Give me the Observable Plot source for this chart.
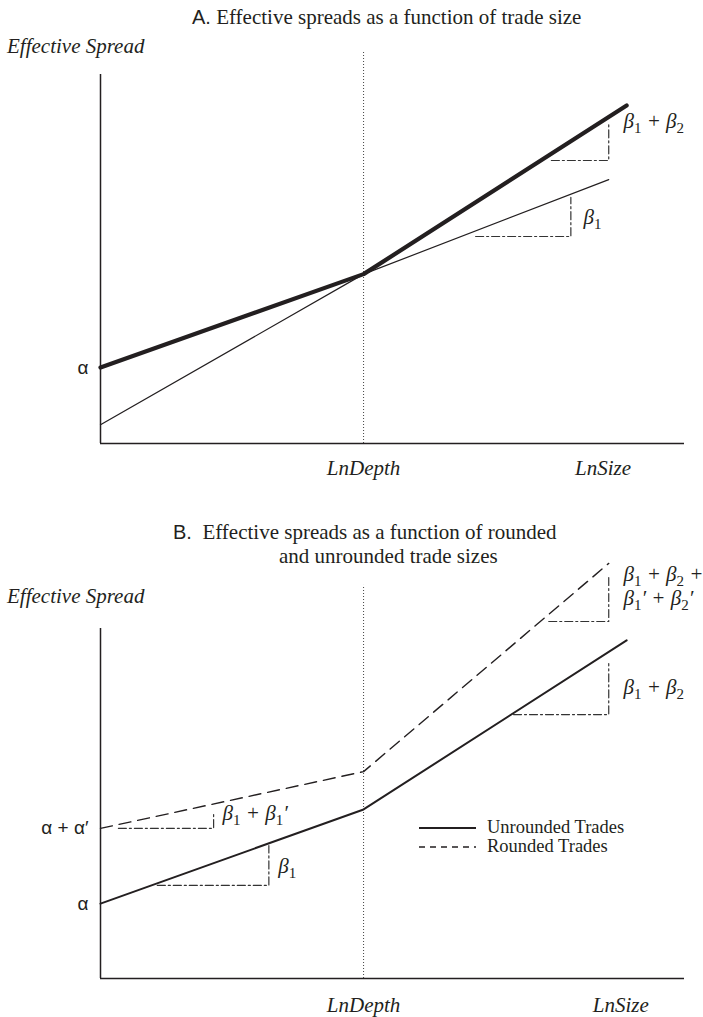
<!DOCTYPE html>
<html><head><meta charset="utf-8">
<script src="https://cdn.jsdelivr.net/npm/d3@7"></script>
<script src="https://cdn.jsdelivr.net/npm/@observablehq/plot@0.6"></script>
<style>
body{margin:0;background:#fff;}
#wrap{position:relative;width:703px;height:1017px;font-family:"Liberation Serif","Times New Roman",serif;color:#231f20;overflow:hidden;}
.t{position:absolute;font-size:21px;line-height:24px;white-space:nowrap;}
.sans{font-family:"Liberation Sans",Arial,sans-serif;font-size:20px;}
.it{font-style:italic;}
.panel{position:absolute;left:0;}
.leg{position:absolute;left:419px;top:818px;font-size:18.5px;line-height:19px;}
.leg div{display:flex;align-items:center;white-space:nowrap;}
.leg svg{margin-right:11px;}
</style></head><body>
<div id="wrap">
  <div class="t" style="left:192px;top:5px;"><span class="sans">A.</span> Effective spreads as a function of trade size</div>
  <div class="t it" style="left:7px;top:34px;">Effective Spread</div>
  <div class="t" style="left:173px;top:520px;"><span class="sans">B.</span>&nbsp; Effective spreads as a function of rounded</div>
  <div class="t" style="left:279px;top:544px;">and unrounded trade sizes</div>
  <div class="t it" style="left:7px;top:584px;">Effective Spread</div>
  <div id="A" class="panel" style="top:0px;"></div>
  <div id="B" class="panel" style="top:500px;"></div>
  <div class="leg" id="legend"></div>
</div>
<script>
// ---------- Panel A data ----------
const xTicksA = [{x: 5, label: "LnDepth"}, {x: 9.55, label: "LnSize"}];
const yTicksA = [{y: 2.06, label: "α"}];
const depthA = [5];
const thinA  = [{x: 0, y: 0.51}, {x: 5, y: 4.59}, {x: 9.66, y: 7.15}];
const thickA = [{x: 0, y: 2.06}, {x: 5, y: 4.59}, {x: 10, y: 9.16}];
const stepsA = [
  [{x: 8.57, y: 7.67}, {x: 9.66, y: 7.67}, {x: 9.66, y: 8.70}],
  [{x: 7.13, y: 5.61}, {x: 8.94, y: 5.61}, {x: 8.94, y: 6.67}]
];
const slopeLabelsA = [
  {x: 9.94, y: 8.72, label: "β₁ + β₂"},
  {x: 9.18, y: 6.12, label: "β₁"}
];

// ---------- Panel B data ----------
const xTicksB = [{x: 5, label: "LnDepth"}, {x: 9.89, label: "LnSize"}];
const yTicksB = [{y: 2.14, label: "α"}, {y: 4.29, label: "α + α′"}];
const depthB = [5];
const unrounded = [{x: 0, y: 2.14}, {x: 5, y: 4.83}, {x: 10, y: 9.66}];
const rounded   = [{x: 0, y: 4.29}, {x: 5, y: 5.91}, {x: 9.66, y: 11.86}];
const stepsB = [
  [{x: 0.34, y: 4.29}, {x: 2.15, y: 4.29}, {x: 2.15, y: 4.71}],
  [{x: 1.08, y: 2.66}, {x: 3.20, y: 2.66}, {x: 3.20, y: 3.80}],
  [{x: 8.52, y: 10.2}, {x: 9.66, y: 10.2}, {x: 9.66, y: 11.51}],
  [{x: 7.85, y: 7.54}, {x: 9.66, y: 7.54}, {x: 9.66, y: 9.00}]
];
const slopeLabelsB = [
  {x: 9.94, y: 11.56, label: "β₁ + β₂ +"},
  {x: 9.94, y: 10.86, label: "β₁′ + β₂′"},
  {x: 9.94, y: 8.31, label: "β₁ + β₂"},
  {x: 2.32, y: 4.71, label: "β₁ + β₁′"},
  {x: 3.38, y: 3.20, label: "β₁"}
];
const legendItems = [
  {label: "Unrounded Trades", dash: null},
  {label: "Rounded Trades", dash: "6,5"}
];

const INK = "#231f20";
const SERIF = "Liberation Serif, Times New Roman, serif";
const SANS = "Liberation Sans, Arial, sans-serif";
const flat = segs => segs.flatMap((s, i) => s.map(p => ({...p, k: i})));

function richify(root) {
  root.querySelectorAll("text").forEach(t => {
    const s = t.textContent;
    if (!/[₁₂]/.test(s)) return;
    while (t.firstChild) t.removeChild(t.firstChild);
    let off = 0;
    for (const p of s.split(/([₁₂])/)) {
      if (!p) continue;
      const ts = document.createElementNS("http://www.w3.org/2000/svg", "tspan");
      if (p === "₁" || p === "₂") {
        ts.textContent = p === "₁" ? "1" : "2";
        ts.setAttribute("font-size", "15");
        ts.setAttribute("font-style", "normal");
        ts.setAttribute("dy", String(5 - off)); off = 5;
      } else {
        ts.textContent = p;
        ts.setAttribute("dy", String(0 - off)); off = 0;
      }
      t.appendChild(ts);
    }
  });
}

function panel({height, yRange, yMax, depth, depthTop, xTicks, yTicks, marks, labels, dyTick}) {
  const svg = Plot.plot({
    width: 703, height,
    x: {domain: [0, 11.1], range: [100, 684], axis: null},
    y: {domain: [0, yMax], range: yRange, axis: null},
    style: {background: "transparent", overflow: "visible"},
    marks: [
      Plot.ruleX(depth, {y1: 0, y2: depthTop, stroke: "#444", strokeWidth: 1, strokeDasharray: "1,2"}),
      Plot.ruleX([0], {y1: 0, y2: yMax, stroke: INK, strokeWidth: 1.5}),
      Plot.ruleY([0], {x1: 0, x2: 11.1, stroke: INK, strokeWidth: 1.6}),
      ...marks,
      Plot.text(xTicks, {x: "x", y: 0, text: "label", dy: dyTick, fontSize: 21, fontStyle: "italic", fontFamily: SERIF, fill: INK}),
      Plot.text(yTicks, {x: 0, y: "y", text: "label", dx: -12, textAnchor: "end", fontSize: 19, fontFamily: SANS, fill: INK}),
      Plot.text(labels, {x: "x", y: "y", text: "label", textAnchor: "start", fontSize: 21, fontStyle: "italic", fontFamily: SERIF, fill: INK})
    ]
  });
  richify(svg);
  return svg;
}

const dashDot = {stroke: "#333", strokeWidth: 1.2, strokeDasharray: "8,3,2,3"};

document.getElementById("A").appendChild(panel({
  height: 500, yRange: [443, 74], yMax: 10, depth: depthA, depthTop: 10.6, dyTick: 25,
  xTicks: xTicksA, yTicks: yTicksA, labels: slopeLabelsA,
  marks: [
    Plot.line(flat(stepsA), {x: "x", y: "y", z: "k", ...dashDot}),
    Plot.line(thinA, {x: "x", y: "y", stroke: INK, strokeWidth: 1.2}),
    Plot.line(thickA, {x: "x", y: "y", stroke: INK, strokeWidth: 4.2})
  ]
}));

document.getElementById("B").appendChild(panel({
  height: 517, yRange: [478, 128], yMax: 10, depth: depthB, depthTop: 11.23, dyTick: 27,
  xTicks: xTicksB, yTicks: yTicksB, labels: slopeLabelsB,
  marks: [
    Plot.line(flat(stepsB), {x: "x", y: "y", z: "k", ...dashDot}),
    Plot.line(rounded, {x: "x", y: "y", stroke: INK, strokeWidth: 1.4, strokeDasharray: "12,7"}),
    Plot.line(unrounded, {x: "x", y: "y", stroke: INK, strokeWidth: 2})
  ]
}));

const leg = document.getElementById("legend");
for (const it of legendItems) {
  const row = document.createElement("div");
  const sw = d3.create("svg").attr("width", 57).attr("height", 10);
  sw.append("line").attr("x1", 0).attr("x2", 57).attr("y1", 5).attr("y2", 5)
    .attr("stroke", INK).attr("stroke-width", it.dash ? 1.3 : 1.8)
    .attr("stroke-dasharray", it.dash);
  row.appendChild(sw.node());
  const sp = document.createElement("span");
  sp.textContent = it.label;
  row.appendChild(sp);
  leg.appendChild(row);
}
</script>
</body></html>
